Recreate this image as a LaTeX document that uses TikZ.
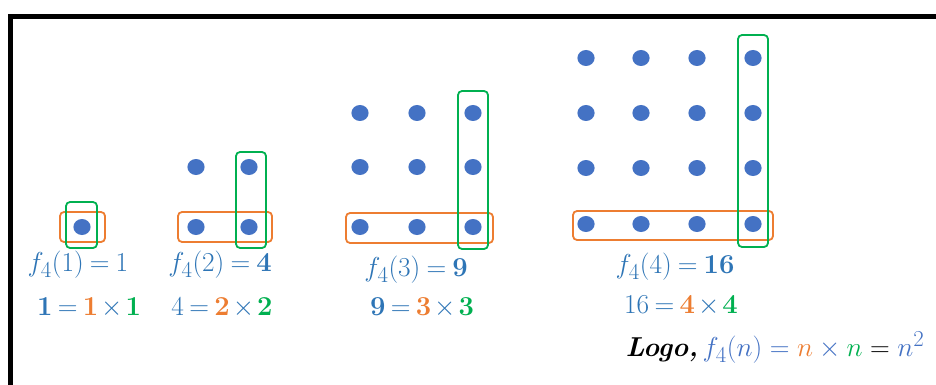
\documentclass[tikz,border=0pt]{standalone}
\usepackage{amsmath}
\usepackage{graphicx}
\definecolor{dotblue}{HTML}{4472C4}
\definecolor{txtblue}{HTML}{2E75B6}
\definecolor{orng}{HTML}{ED7D31}
\definecolor{grn}{HTML}{00B050}
\newcommand{\cl}[2]{{\color{#1}#2}}
\newcommand{\bigtxt}[1]{\scalebox{1.1}{#1}}
\newcommand{\tight}{\thickmuskip=3.5mu\medmuskip=2mu}
\begin{document}
\begin{tikzpicture}[x=1pt,y=-1pt,
  obox/.style={draw=orng, line width=1.8pt, rounded corners=4pt},
  gbox/.style={draw=grn, line width=1.8pt, rounded corners=4pt},
  lbl/.style={inner sep=0pt, text=txtblue, font=\fontsize{24.88}{29}\selectfont},
]
\useasboundingbox (0,0) rectangle (936,385);
\fill[white] (0,0) rectangle (936,385);
% frame
\draw[line width=5pt] (936,16.5) -- (10.5,16.5) -- (10.5,385);

% dots
\newcommand{\mydot}[3]{\fill[dotblue] (#2,#3) ellipse [x radius=8.6pt, y radius=8pt]; \coordinate (#1) at (#2,#3);}
% group 1
\mydot{a11}{82}{227}
% group 2
\mydot{b11}{196}{167}\mydot{b12}{249}{167}
\mydot{b21}{196}{227}\mydot{b22}{249}{227}
% group 3
\foreach \x [count=\i] in {360,417,473}{
  \foreach \y [count=\j] in {113,167,227}{
    \fill[dotblue] (\x,\y) ellipse [x radius=8.6pt, y radius=8pt];
    \coordinate (c\j\i) at (\x,\y);
  }
}
% group 4
\foreach \x [count=\i] in {586,641,697,753}{
  \foreach \y [count=\j] in {58,113,168,224}{
    \fill[dotblue] (\x,\y) ellipse [x radius=8.6pt, y radius=8pt];
    \coordinate (e\j\i) at (\x,\y);
  }
}

% boxes
\draw[obox] (60,212) rectangle (105,242);
\draw[gbox] (66,202) rectangle (97,248);
\draw[obox] (178,212) rectangle (272,242);
\draw[gbox] (236,152) rectangle (266,248);
\draw[obox] (346,213) rectangle (493,243);
\draw[gbox] (458,91) rectangle (488,249);
\draw[obox] (573,211) rectangle (773,240);
\draw[gbox] (738,35) rectangle (768,247);

% labels
\node[lbl] (f1) at (78,265) {\bigtxt{$\thickmuskip=4mu f_4(1)=1$}};
\node[lbl] (f2) at (220,265) {\bigtxt{$\thickmuskip=4mu f_4(2)=\mathbf{4}$}};
\node[lbl] (f3) at (416,270) {\bigtxt{$\thickmuskip=4mu f_4(3)=\mathbf{9}$}};
\node[lbl] (f4) at (675,267) {\bigtxt{$\thickmuskip=4mu f_4(4)=\mathbf{16}$}};

\node[lbl] (p1) at (89,308) {\bigtxt{$\tight\mathbf{1}=\cl{orng}{\mathbf{1}}\times\cl{grn}{\mathbf{1}}$}};
\node[lbl] (p2) at (222,308) {\bigtxt{$\tight 4=\cl{orng}{\mathbf{2}}\times\cl{grn}{\mathbf{2}}$}};
\node[lbl] (p3) at (422,308) {\bigtxt{$\tight\mathbf{9}=\cl{orng}{\mathbf{3}}\times\cl{grn}{\mathbf{3}}$}};
\node[lbl] (p4) at (681,306) {\bigtxt{$\tight 16=\cl{orng}{\mathbf{4}}\times\cl{grn}{\mathbf{4}}$}};

\node[inner sep=0pt, font=\fontsize{24.88}{29}\selectfont] (logo) at (775,348)
  {\bigtxt{\textbf{\textit{Logo,}}\,$\cl{dotblue}{f_4(n)}\mathrel{\cl{dotblue}{=}}\cl{orng}{n}\mathbin{\cl{dotblue}{\times}}\cl{grn}{n}=\cl{dotblue}{n^2}$}};
\end{tikzpicture}
\end{document}
